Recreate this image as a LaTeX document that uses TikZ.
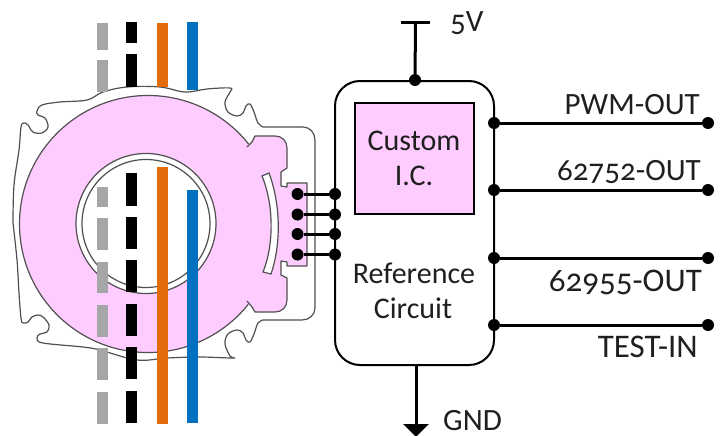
\documentclass[tikz,border=0pt]{standalone}
\usepackage{fontspec}
\setmainfont[Numbers=OldStyle]{Carlito}
\definecolor{pinkfill}{HTML}{FFCCFF}
\definecolor{wgray}{HTML}{A6A6A6}
\definecolor{worange}{HTML}{E36C0A}
\definecolor{wblue}{HTML}{0070C0}
\definecolor{outl}{HTML}{505050}
\usetikzlibrary{arrows.meta}
\tikzset{
 x=1pt,y=-1pt,
 bigtext/.style={font=\fontsize{31}{33}\selectfont,inner sep=0pt,text=black!88},
 widetext/.style={font=\fontsize{33}{35}\selectfont,inner sep=0pt,text=black!88},
 boxtext/.style={font=\fontsize{30}{32}\selectfont,inner sep=0pt,text=black!88,anchor=base},
 dotnode/.style={circle,fill=black,inner sep=0pt,minimum size=12pt},
 smalldot/.style={circle,fill=black,inner sep=0pt,minimum size=12pt},
 conn/.style={line width=3pt,black},
 hous/.style={draw=outl,line width=1.2pt},
 wirebar/.style={line width=11pt},
}
\begin{document}
\begin{tikzpicture}
\useasboundingbox (0,0) rectangle (725,436);
% housing
\draw[hous,line join=round,fill=white] plot[smooth,tension=0.6] coordinates {(13,223)(14,185)(19,150)(21,127)(24,123)(28,125)(33,132)(42,133)(48,127)(45,118)(38,115)(37,111)(42,105)(60,102)(87,100)(103,92)(127,87)(160,87)(185,92)(207,89)(230,88)(230,92)(225,102)(228,112)(237,116)(243,113)(246,106)(250,104)(254,112)(258,123)(263,127)}
 -- (303,127) .. controls (310,127) and (315,133) .. (315,140) -- (315,308) .. controls (315,315) and (309,320) .. (302,320) -- (263,320)
 plot[smooth,tension=0.6] coordinates {(263,320)(258,323)(254,334)(250,342)(246,340)(243,333)(237,330)(228,334)(225,344)(230,356)(233,358)(200,357)(167,358)(137,360)(100,350)(83,347)(43,343)(37,338)(40,334)(47,332)(49,325)(43,317)(38,315)(32,317)(28,322)(23,323)(21,318)(19,293)(17,260)(13,223)};
% pink body
\filldraw[fill=pinkfill,draw=outl,line width=1.2pt] (148,224) circle[radius=128.5];
\filldraw[fill=white,draw=outl,line width=1.2pt] (146,223.5) circle[radius=70];
\draw[outl,line width=1.2pt] (146,223.5) circle[radius=64];
% tab
\fill[pinkfill] (244,147) -- (252,142) -- (255,136) -- (275,136) .. controls (282,136) and (287,141) .. (287,148) -- (287,168) -- (281,172) -- (281,186) -- (287,187) -- (287,183) -- (307,183) -- (307,266) -- (287,266) -- (287,262) -- (281,261) -- (281,275) -- (287,278) -- (287,300) .. controls (287,307) and (282,312) .. (275,312) -- (255,312) -- (252,307) -- (244,301) -- (225,250) -- (225,200) -- cycle;
\draw[outl,line width=1.2pt,line join=round] (247,147) -- (252,142) -- (255,136) -- (275,136) .. controls (282,136) and (287,141) .. (287,148) -- (287,168) -- (281,172) -- (281,186) -- (287,187) -- (287,183) -- (307,183) -- (307,266) -- (287,266) -- (287,262) -- (281,261) -- (281,275) -- (287,278) -- (287,300) .. controls (287,307) and (282,312) .. (275,312) -- (255,312) -- (252,307) -- (247,301);
\filldraw[fill=white,draw=outl,line width=1.2pt] (262,176) -- (269,173) .. controls (281,205) and (281,245) .. (271,274) -- (263,272) .. controls (274,245) and (274,205) .. (262,176) -- cycle;
% wires
\foreach \a/\b in {23/50,60.5/92,187/207,218/250,262/293,305/337,348/380,392/424}
  \draw[wirebar,wgray] (102,\a) -- (102,\b);
\foreach \a/\b in {22/43,54/87,173/206,217/249,260/292,304/336,347/379,391/423}
  \draw[wirebar,black] (131.5,\a) -- (131.5,\b);
\draw[wirebar,worange] (162.5,23) -- (162.5,87);
\draw[wirebar,worange] (162.5,167) -- (162.5,424);
\draw[wirebar,wblue] (192.5,22) -- (192.5,90);
\draw[wirebar,wblue] (192.5,190) -- (192.5,423);
% circuit box
\node[draw=black,line width=2pt,rounded corners=25pt,minimum width=159pt,minimum height=284pt,inner sep=0pt] (box) at (414.5,223) {};
\node[draw=black,line width=1.5pt,fill=pinkfill,minimum width=119pt,minimum height=111pt,inner sep=0pt] (ic) at (414.5,158.5) {};
\node[boxtext] (ic1) at (414,150) {Custom};
\node[boxtext] (ic2) at (414,185) {I.C.};
\node[boxtext] (ref1) at (414,283) {Reference};
\node[boxtext] (ref2) at (413,318) {Circuit};
% pins
\foreach \n/\y in {a/194,b/214.5,c/234,d/254.5}{
  \node[dotnode] (l\n) at (297.5,\y) {};
  \node[dotnode] (r\n) at (335,\y) {};
  \draw[conn] (l\n) -- (r\n);
}
% power
\coordinate (vtop) at (415.5,23);
\coordinate (vl) at (401,23);
\coordinate (vr) at (430,23);
\node[smalldot] (vdot) at (415,80) {};
\draw[conn] (vl) -- (vr);
\draw[conn] (vtop) -- (vdot);
\node[bigtext,anchor=base west] (fivev) at (450,32) {5V};
\coordinate (gtip) at (416,437);
\draw[conn,-{Triangle[length=13pt,width=25pt]}] (416,365) -- (gtip);
\node[bigtext,anchor=base west] (gnd) at (443,430) {GND};
% outputs
\foreach \n/\y in {p/123,q/190,s/258,t/325}{
  \node[smalldot] (o\n) at (494,\y) {};
  \node[smalldot] (e\n) at (708,\y) {};
  \draw[conn] (o\n) -- (e\n);
}
\node[bigtext,anchor=base east] (l1) at (700,114) {PWM-OUT};
\node[bigtext,anchor=base east] (l2) at (701,180) {62752-OUT};
\node[widetext,anchor=base east] (l3) at (702,291) {62955-OUT};
\node[widetext,anchor=base east] (l4) at (698,357) {TEST-IN};
\end{tikzpicture}
\end{document}
